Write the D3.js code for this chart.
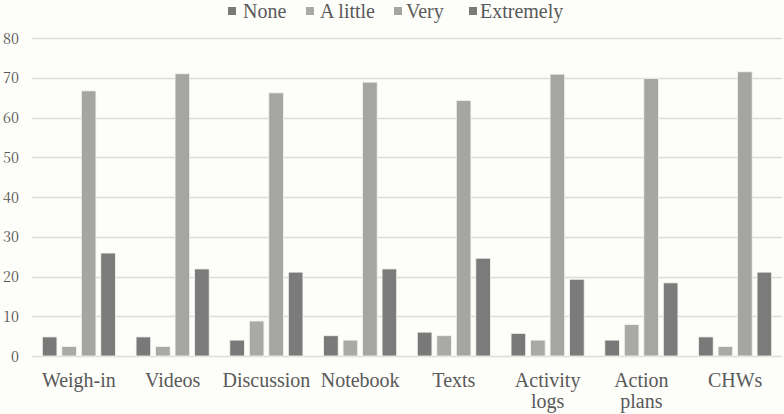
<!DOCTYPE html>
<html>
<head>
<meta charset="utf-8">
<script src="https://cdn.jsdelivr.net/npm/d3@7"></script>
<style>
  html, body { margin: 0; padding: 0; background: #fdfdf9; }
  svg { display: block; }
</style>
</head>
<body>
<svg id="chart" width="784" height="414"></svg>
<script>
const categories = ["Weigh-in", "Videos", "Discussion", "Notebook", "Texts", "Activity logs", "Action plans", "CHWs"];
const seriesNames = ["None", "A little", "Very", "Extremely"];
const noneValues      = [4.8, 4.8, 4.0, 5.1, 6.0, 5.7, 4.0, 4.8];
const aLittleValues   = [2.4, 2.4, 8.8, 4.0, 5.1, 4.0, 7.9, 2.4];
const veryValues      = [66.7, 71.0, 66.2, 68.9, 64.3, 70.9, 69.8, 71.5];
const extremelyValues = [25.9, 21.9, 21.1, 21.9, 24.6, 19.3, 18.4, 21.1];
const yTicks = [0, 10, 20, 30, 40, 50, 60, 70, 80];
const colors = ["#797979", "#a9aaa6", "#a5a5a4", "#7b7b7b"];

const seriesValues = [noneValues, aLittleValues, veryValues, extremelyValues];
const data = categories.map((c, i) => ({
  category: c,
  values: seriesNames.map((s, j) => ({ series: s, value: seriesValues[j][i] }))
}));

const svg = d3.select("#chart");
const margin = { left: 32, right: 2 };
const W = 784;

const x0 = d3.scaleBand().domain(categories).range([margin.left, W - margin.right]).paddingInner(0.22).paddingOuter(0.11);
const x1 = d3.scaleBand().domain(seriesNames).range([0, x0.bandwidth()]).paddingInner(0.25);
const y = d3.scaleLinear().domain([0, 80]).range([356, 38]);

const textColor = "#595959";
const tickFont = "'Noto Serif CJK SC', 'Liberation Serif', serif";
const labelFont = "'Liberation Serif', serif";

svg.append("g")
  .selectAll("line")
  .data(yTicks)
  .join("line")
  .attr("x1", margin.left)
  .attr("x2", W - margin.right)
  .attr("y1", d => Math.round(y(d)) + 0.5)
  .attr("y2", d => Math.round(y(d)) + 0.5)
  .attr("stroke", "#dcdcd8")
  .attr("stroke-width", 1.3);

const yAxis = d3.axisLeft(y).tickValues(yTicks).tickSize(0).tickPadding(0);
const gy = svg.append("g").attr("transform", "translate(19,0)").call(yAxis);
gy.select(".domain").remove();
gy.selectAll("text")
  .style("font-family", tickFont)
  .style("font-size", "14.5px")
  .attr("fill", textColor)
  .attr("dy", "0.35em");

const groups = svg.append("g")
  .selectAll("g")
  .data(data)
  .join("g")
  .attr("transform", d => `translate(${x0(d.category)},0)`);

groups.selectAll("rect")
  .data(d => d.values)
  .join("rect")
  .attr("x", d => x1(d.series))
  .attr("y", d => y(d.value))
  .attr("width", x1.bandwidth())
  .attr("height", d => y(0) - y(d.value))
  .attr("fill", (d, i) => colors[i])
  .attr("stroke", "#f4f4f0")
  .attr("stroke-width", 0.8);

const xAxis = d3.axisBottom(x0).tickSize(0).tickPadding(0);
const gx = svg.append("g").attr("transform", "translate(0,356)").call(xAxis);
gx.select(".domain").remove();
gx.selectAll("text").remove();
gx.selectAll(".tick").each(function(d) {
  const words = d.split(" ");
  const lines = words.length > 1 ? words : [d];
  const tick = d3.select(this);
  lines.forEach((w, i) => {
    tick.append("text")
      .style("font-family", labelFont)
      .style("font-size", "20px")
      .attr("fill", textColor)
      .attr("text-anchor", "middle")
      .attr("x", 0)
      .attr("y", 31 + i * 20.5)
      .text(w);
  });
});

const legendItems = [
  { sx: 228, tx: 243 },
  { sx: 306, tx: 320 },
  { sx: 394, tx: 406 },
  { sx: 469, tx: 480 }
];
const lg = svg.append("g");
legendItems.forEach((it, i) => {
  lg.append("rect").attr("x", it.sx).attr("y", 7).attr("width", 8).attr("height", 8).attr("fill", colors[i]);
  lg.append("text").attr("x", it.tx).attr("y", 18)
    .style("font-family", labelFont)
    .style("font-size", "20px")
    .attr("fill", textColor)
    .text(seriesNames[i]);
});
</script>
</body>
</html>
